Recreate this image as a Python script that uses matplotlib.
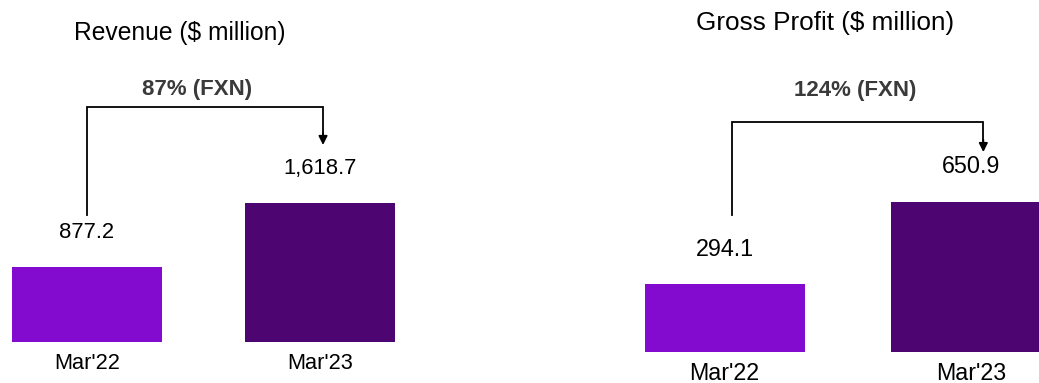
import numpy as np
import matplotlib.pyplot as plt
import matplotlib.transforms as mtransforms

plt.rcParams['font.family'] = ['Liberation Sans', 'DejaVu Sans']

# data
periods = ["Mar'22", "Mar'23"]
revenue = [877.2, 1618.7]
gross_profit = [294.1, 650.9]
revenue_growth = "87% (FXN)"
gp_growth = "124% (FXN)"
bar_colors = ['#820BCF', '#4C0571']

W, H = 1039, 383
fig = plt.figure(figsize=(W / 100, H / 100), dpi=100)


def panel(rect, values, labels, width, xlim, ylim, growth, br, title, title_xy, title_size, s):
    ax = fig.add_axes(rect)
    x = np.arange(len(values))
    ax.bar(x, values, width=width, color=bar_colors)
    ax.set_xlim(xlim)
    ax.set_ylim(ylim)
    ax.axis('off')

    for xi, v in zip(x, values):
        ax.annotate(f'{v:,.1f}', (xi, v), xytext=(0, 25), textcoords='offset points',
                    ha='center', va='center', fontsize=15.8 * s, color='black')
    for xi, lab in zip(x, labels):
        ax.annotate(lab, (xi, 0), xytext=(0, -15.5), textcoords='offset points',
                    ha='center', va='center', fontsize=15.7 * s, color='black',
                    annotation_clip=False)

    # growth bracket (x in data, y in axes fraction)
    tr = mtransforms.blended_transform_factory(ax.transData, ax.transAxes)
    x0, x1, y_start, y_top, y_end, tx, ty = br
    ax.plot([x0, x0, x1, x1], [y_start, y_top, y_top, y_end + 0.02], color='black',
            lw=1.3, transform=tr, clip_on=False, solid_joinstyle='miter')
    ax.annotate('', xy=(x1, y_end), xycoords=tr, xytext=(x1, y_end + 0.035), textcoords=tr,
                arrowprops=dict(arrowstyle='-|>', color='black', lw=1.3,
                                mutation_scale=13, shrinkA=0, shrinkB=0))
    ax.text(tx, ty, growth, transform=tr, ha='center', va='center',
            fontsize=16, fontweight='bold', color='#3a3a3a')

    fig.text(title_xy[0], title_xy[1], title, ha='center', va='center',
             fontsize=title_size, color='black')
    return ax


# left panel: revenue
panel([0, 41 / H, 520 / W, 342 / H], revenue, periods, 150 / 233,
      (-87 / 233, (520 - 87) / 233), (0, 342 * 11.67), revenue_growth,
      (0.0, 1.013, 0.371, 0.687, 0.576, 0.472, 0.737),
      'Revenue ($ million)', (180 / W, 1 - 33 / H), 17.7, 1.0)

# right panel: gross profit
panel([520 / W, 31 / H, 519 / W, 352 / H], gross_profit, periods, 160 / 246.5,
      ((520 - 724.5) / 246.5, (1039 - 724.5) / 246.5), (0, 352 * 4.33), gp_growth,
      (0.03, 1.05, 0.389, 0.653, 0.568, 0.529, 0.744),
      'Gross Profit ($ million)', (825 / W, 1 - 23 / H), 18.8, 1.065)

fig.savefig('out.png', dpi=100)
